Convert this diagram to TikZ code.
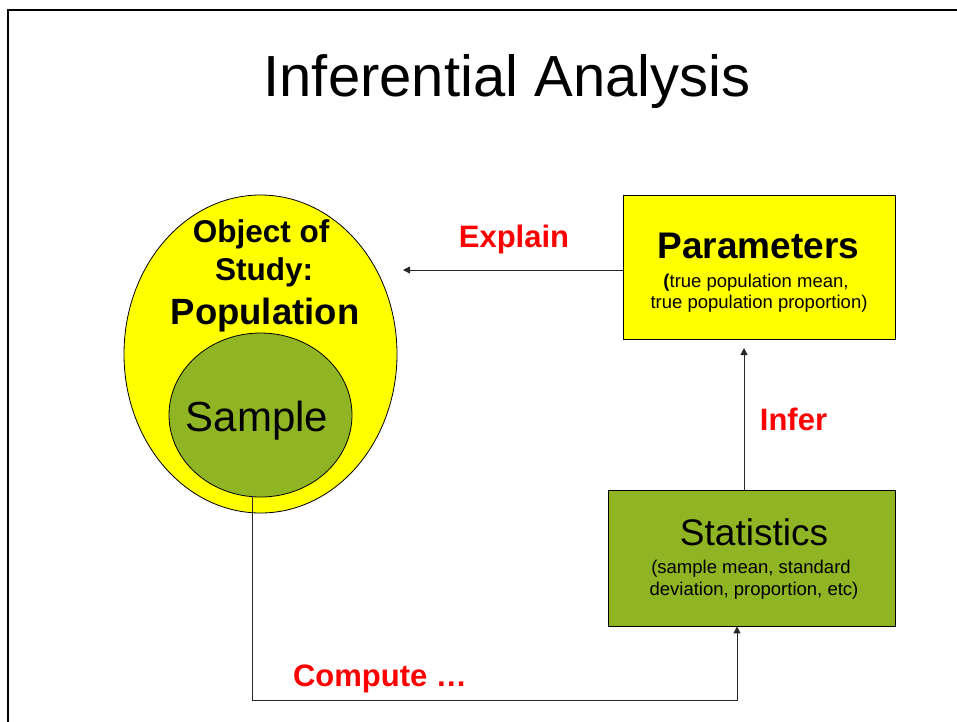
\documentclass[tikz,border=0pt]{standalone}
\usepackage{fontspec}
\setmainfont{Liberation Sans}
\usetikzlibrary{shapes.geometric,arrows.meta}
\definecolor{boxyellow}{RGB}{255,255,0}
\definecolor{boxgreen}{RGB}{143,181,37}
\definecolor{labred}{RGB}{255,0,0}
\tikzset{
  conn/.style={draw=black!85, line width=1pt},
  arr/.style={conn, -{Triangle[length=7pt,width=7pt]}},
  redlab/.style={text=labred, font=\fontsize{31}{31}\selectfont\bfseries, anchor=base, inner sep=0pt},
  txt/.style={anchor=base, inner sep=0pt},
  shapeline/.style={draw=black, line width=0.8pt},
}
\begin{document}
\begin{tikzpicture}[x=1pt,y=-1pt]
\useasboundingbox (0,0) rectangle (957,721);
% frame
\draw[line width=2.6pt] (8,723) -- (8,10) -- (959,10);
% title
\node[txt, font=\fontsize{58}{58}\selectfont] (title) at (507,96) {Inferential Analysis};
% population ellipse and sample circle
\node[ellipse, shapeline, fill=boxyellow, minimum width=273pt, minimum height=318pt, inner sep=0pt] (pop) at (260.5,354) {};
\node[ellipse, shapeline, fill=boxgreen, minimum width=183pt, minimum height=164pt, inner sep=0pt] (sample) at (260.5,415) {};
\node[txt, font=\fontsize{31.5}{31.5}\selectfont\bfseries] (obj1) at (261,242) {Object of};
\node[txt, font=\fontsize{31.5}{31.5}\selectfont\bfseries] (obj2) at (264,280) {Study:};
\node[txt, font=\fontsize{36.5}{36.5}\selectfont\bfseries] (obj3) at (265,324) {Population};
\node[txt, font=\fontsize{42}{42}\selectfont] (samptxt) at (257,431) {Sample};
% parameters box
\node[rectangle, shapeline, fill=boxyellow, minimum width=272pt, minimum height=144pt, inner sep=0pt] (params) at (759,267) {};
\node[txt, font=\fontsize{37}{37}\selectfont\bfseries] (partitle) at (758.5,258) {Parameters};
\node[txt, font=\fontsize{18.5}{18.5}\selectfont] (parsub1) at (756,287) {\textbf{(}true population mean,};
\node[txt, font=\fontsize{18.5}{18.5}\selectfont] (parsub2) at (759,308) {true population proportion)};
% statistics box
\node[rectangle, shapeline, fill=boxgreen, minimum width=287pt, minimum height=136pt, inner sep=0pt] (stats) at (751.5,558) {};
\node[txt, font=\fontsize{37}{37}\selectfont] (stattitle) at (754,545) {Statistics};
\node[txt, font=\fontsize{18.5}{18.5}\selectfont] (statsub1) at (751,573) {(sample mean, standard};
\node[txt, font=\fontsize{18.5}{18.5}\selectfont] (statsub2) at (754,595) {deviation, proportion, etc)};
% connectors
\coordinate (explend) at (403,270);
\draw[arr] (params.west |- explend) -- (explend);
\coordinate (inferend) at (744,348);
\draw[arr] (stats.north -| inferend) -- (inferend);
\coordinate (c1) at (252,700);
\coordinate (c2) at (737,700);
\draw[arr] (sample.south -| c1) -- (c1) -- (c2) -- (c2 |- stats.south);
% labels
\node[redlab] (explain) at (514,247) {Explain};
\node[redlab] (infer) at (793.5,430) {Infer};
\node[redlab] (compute) at (380,686) {Compute …};
\end{tikzpicture}
\end{document}
